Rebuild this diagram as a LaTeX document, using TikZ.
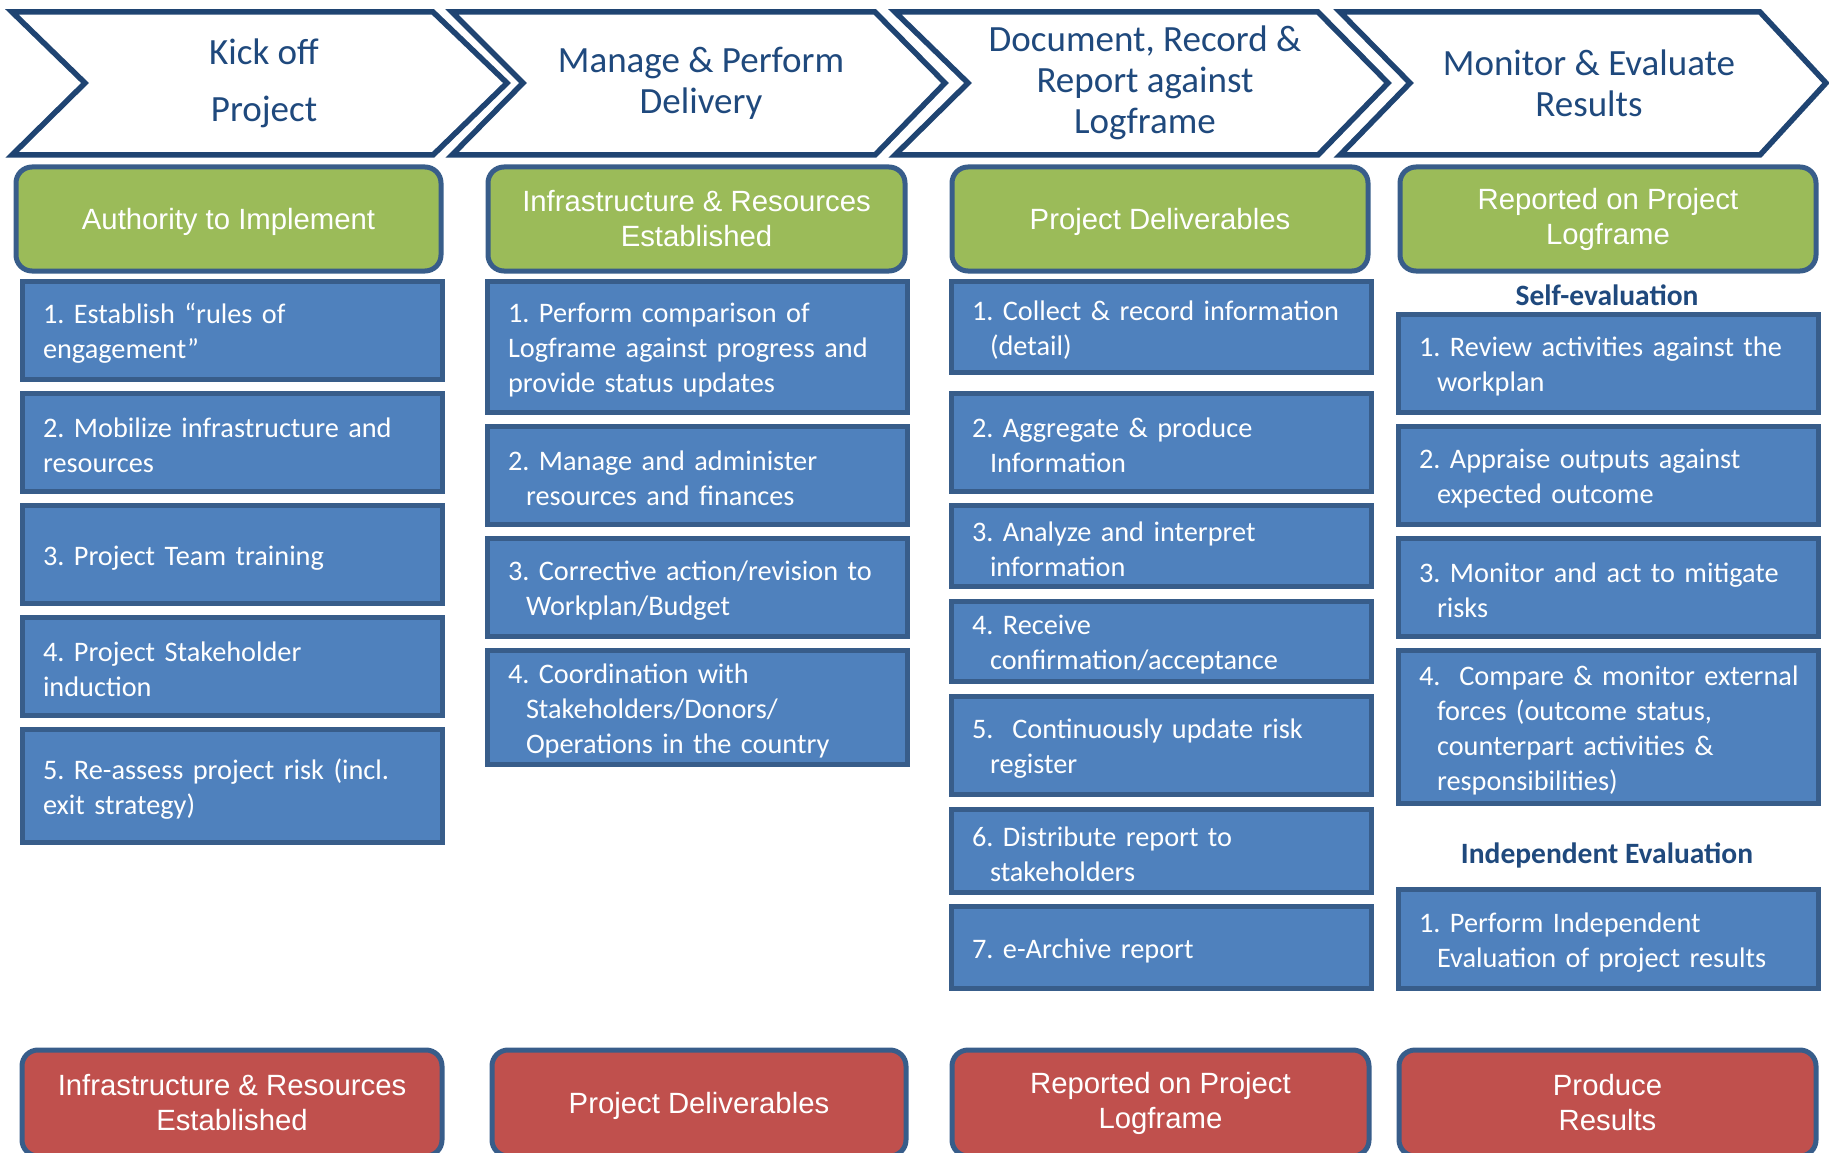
\documentclass[tikz,border=0pt]{standalone}
\usepackage{fontspec}
\setmainfont{Carlito}
\newfontfamily\arialfont{Liberation Sans}
\usepackage{tikz}
\usetikzlibrary{positioning}
\definecolor{phaseline}{HTML}{1F4472}
\definecolor{phaseink}{HTML}{1F497D}
\definecolor{boxline}{HTML}{385D8A}
\definecolor{stepblue}{HTML}{4F81BD}
\definecolor{leafgreen}{HTML}{9BBB59}
\definecolor{brickred}{HTML}{C0504D}
\frenchspacing
\hyphenpenalty=10000
\hfuzz=20pt

\begin{document}
\begin{tikzpicture}[x=1pt,y=-1pt,
  phase/.style={draw=phaseline,line width=5.5pt,fill=white,line join=miter},
  phasetext/.style={text=phaseink,font=\fontsize{37}{41}\selectfont,align=center,inner sep=0pt},
  outbox/.style={draw=boxline,line width=5pt,rounded corners=16pt,text=white,align=center,
    font=\arialfont\fontsize{29.3}{35}\selectfont,anchor=north west,outer sep=0pt,inner sep=0pt,
    minimum height=104pt},
  ingreen/.style={outbox,fill=leafgreen},
  outred/.style={outbox,fill=brickred,minimum height=106pt},
  stepbox/.style={draw=boxline,line width=5pt,fill=stepblue,text=white,anchor=north west,align=left,
    outer sep=0pt,inner xsep=21pt,inner ysep=0pt,text width=378pt,minimum width=420pt,
    font=\fontsize{28.3}{35}\selectfont,execute at begin node={\rule{0pt}{27pt}}},
  sublabel/.style={text=phaseink,font=\bfseries\fontsize{29.5}{34}\selectfont,inner sep=0pt}]
\useasboundingbox (0,0) rectangle (1829,1153);

\draw [phase] (12,12) -- (433,12) -- (507,83) -- (433,155) -- (12,155) -- (85,83) -- cycle;
\draw [phase] (452,12) -- (875,12) -- (945,83) -- (875,155) -- (452,155) -- (523,83) -- cycle;
\draw [phase] (895,12) -- (1318,12) -- (1388,83) -- (1318,155) -- (895,155) -- (968,83) -- cycle;
\draw [phase] (1340,12) -- (1760,12) -- (1826,83) -- (1760,155) -- (1340,155) -- (1410,83) -- cycle;
\node [phasetext] (kickoff) at (264,83) {Kick off\\[16pt]Project};
\node [phasetext] (manage) at (701,83) {Manage \& Perform\\Delivery};
\node [phasetext] (document) at (1145,83) {Document, Record \&\\Report against\\Logframe};
\node [phasetext] (monitor) at (1589,83) {Monitor \& Evaluate\\Results};

\node [ingreen,minimum width=425pt,text depth=0pt] (authority) at (16,167) {Authority to Implement};
\node [ingreen,minimum width=417pt] (infrain) at (488,167) {Infrastructure \& Resources\\Established};
\node [ingreen,minimum width=416pt,text depth=0pt] (delivin) at (952,167) {Project Deliverables};
\node [ingreen,minimum width=416pt] (reportin) at (1400,167) {Reported on Project\\Logframe};

\node [stepbox,minimum height=98pt] (kick1) at (22,281) {1. Establish “rules of\\engagement”};
\node [stepbox,minimum height=98pt] (kick2) at (22,393) {2. Mobilize infrastructure and\\resources};
\node [stepbox,minimum height=98pt] (kick3) at (22,505) {3. Project Team training};
\node [stepbox,minimum height=98pt] (kick4) at (22,617) {4. Project Stakeholder\\induction};
\node [stepbox,minimum height=113pt] (kick5) at (22,729) {5. Re-assess project risk (incl.\\exit strategy)};

\node [stepbox,minimum height=131pt] (manage1) at (487,281) {1. Perform comparison of\\Logframe against progress and\\provide status updates};
\node [stepbox,minimum height=98pt] (manage2) at (487,426) {2. Manage and administer\\\hspace*{18pt}resources and finances};
\node [stepbox,minimum height=98pt] (manage3) at (487,538) {3. Corrective action/revision to\\\hspace*{18pt}Workplan/Budget};
\node [stepbox,minimum height=114pt] (manage4) at (487,650) {4. Coordination with\\\hspace*{18pt}Stakeholders/Donors/\\\hspace*{18pt}Operations in the country};

\node [stepbox,minimum height=91pt] (doc1) at (951,281) {1. Collect \& record information\\\hspace*{18pt}(detail)};
\node [stepbox,minimum height=98pt] (doc2) at (951,393) {2. Aggregate \& produce\\\hspace*{18pt}Information};
\node [stepbox,minimum height=81pt] (doc3) at (951,505) {3. Analyze and interpret\\\hspace*{18pt}information};
\node [stepbox,minimum height=80pt] (doc4) at (951,601) {4. Receive\\\hspace*{18pt}confirmation/acceptance};
\node [stepbox,minimum height=98pt] (doc5) at (951,696) {5.\ \ Continuously update risk\\\hspace*{18pt}register};
\node [stepbox,minimum height=83pt] (doc6) at (951,809) {6. Distribute report to\\\hspace*{18pt}stakeholders};
\node [stepbox,minimum height=82pt] (doc7) at (951,906) {7. e-Archive report};

\node [sublabel] (selfeval) at (1607,295) {Self-evaluation};
\node [stepbox,minimum height=98pt] (mon1) at (1398,314) {1. Review activities against the\\\hspace*{18pt}workplan};
\node [stepbox,minimum height=98pt] (mon2) at (1398,426) {2. Appraise outputs against\\\hspace*{18pt}expected outcome};
\node [stepbox,minimum height=98pt] (mon3) at (1398,538) {3. Monitor and act to mitigate\\\hspace*{18pt}risks};
\node [stepbox,minimum height=153pt] (mon4) at (1398,650) {\mbox{4.\ \ Compare \& monitor external}\\\hspace*{18pt}forces (outcome status,\\\hspace*{18pt}counterpart activities \&\\\hspace*{18pt}responsibilities)};
\node [sublabel] (indepeval) at (1607,855) {Independent Evaluation};
\node [stepbox,minimum height=99pt] (mon5) at (1398,889) {1. Perform Independent\\\hspace*{18pt}Evaluation of project results};

\node [outred,minimum width=420pt] (infraout) at (22,1050) {Infrastructure \& Resources\\Established};
\node [outred,minimum width=414pt,text depth=0pt] (delivout) at (492,1050) {Project Deliverables};
\node [outred,minimum width=417pt] (reportout) at (952,1050) {Reported on Project\\Logframe};
\node [outred,minimum width=417pt] (results) at (1399,1050) {Produce\\Results};
\end{tikzpicture}
\end{document}
